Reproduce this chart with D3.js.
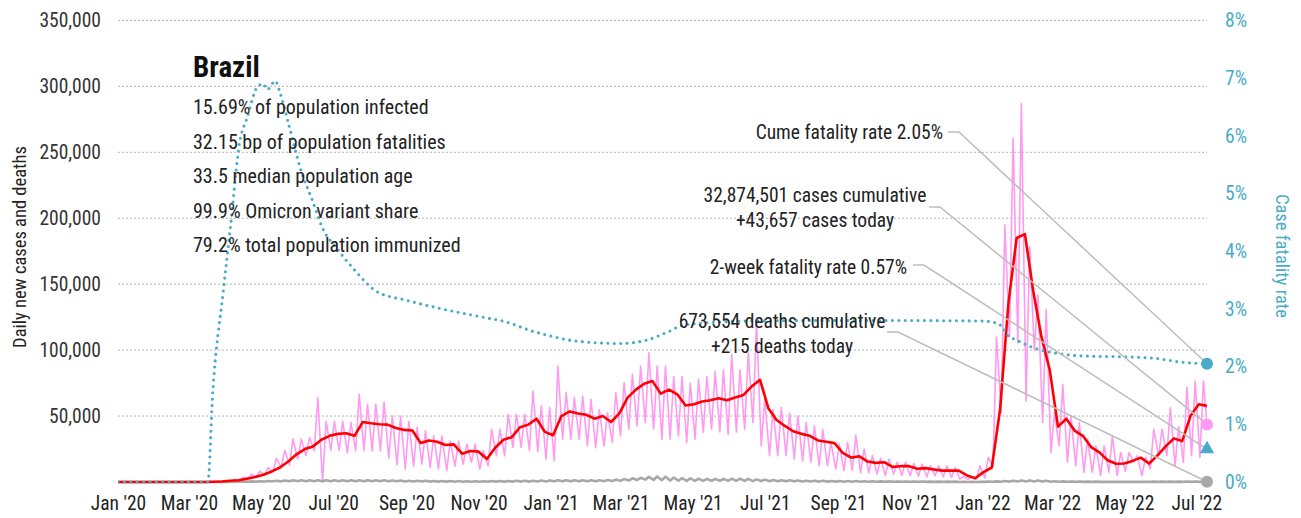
<!DOCTYPE html>
<html>
<head>
<meta charset="utf-8">
<script src="https://cdn.jsdelivr.net/npm/d3@7"></script>
<style>
  html, body { margin: 0; padding: 0; background: #fff; }
  svg { display: block; font-family: "Liberation Sans Narrow", "Roboto Condensed", Roboto, sans-serif; }
</style>
</head>
<body>
<svg id="chart" width="1301" height="518"></svg>
<script>
// ---- Data -----------------------------------------------------------------
const startDate = "2020-01-01";
const endDate = "2022-07-10";
// weekly series: week k ends on Sunday firstWeekEnd + 7k
const firstWeekEnd = "2019-12-29";

// 7-day average of new cases, value at each week end
const avgCases = [
  0, 0, 0, 0, 0, 0, 0, 0, 0, 0, 0, 0,
  200, 400, 900, 1300, 2500, 3800, 5500, 8000, 11000, 15500,
  21000, 25000, 27000, 32000, 35000, 36500, 37000, 35000, 45500, 44500,
  43800, 43500, 41000, 39500, 39000, 29500, 31500, 30500, 28000, 28500,
  21500, 23500, 23000, 17500, 26000, 32000, 34000, 41500, 43500, 48000,
  38000, 35500, 50000, 53500, 52000, 51000, 48000, 50000, 45500, 52000,
  64000, 70000, 74500, 76500, 67000, 70000, 66500, 58000, 59000, 61000,
  62000, 63500, 62000, 64000, 66000, 72500, 77500, 56000, 47000, 42500,
  38500, 36500, 35000, 31500, 30500, 29500, 22000, 18500, 19500, 15500,
  14500, 15000, 11500, 12000, 12000, 10000, 10500, 9500, 8600, 8600,
  8600, 5000, 2800, 7500, 11000, 55000, 135000, 185000, 188000, 145000,
  110000, 85000, 42000, 48000, 39000, 35000, 26500, 22500, 16500, 13800,
  14000, 16000, 18500, 14000, 20000, 27000, 33000, 31000, 50000, 59000,
  57700
];

// daily new cases: weekly trough (Monday) and weekly crest (Thursday)
const dailyLow = [
  0, 0, 0, 0, 0, 0, 0, 0, 0, 0, 0, 0,
  100, 200, 500, 800, 1500, 2500, 3500, 5500, 7500, 11000,
  13000, 17400, 20000, 23700, 0, 24000, 24000, 22000, 23700, 24000,
  23500, 23500, 18000, 13000, 9800, 12000, 13600, 11000, 10000, 8600,
  12000, 13600, 15000, 9800, 12300, 19900, 19900, 26200, 26200, 23700,
  23000, 17400, 16000, 32500, 32500, 32500, 27400, 26000, 27400, 30000,
  35000, 40000, 42500, 45000, 40000, 32500, 32500, 35000, 30000, 32500,
  37500, 40000, 38000, 36000, 38000, 40000, 45000, 27400, 20000, 20000,
  20000, 17400, 16000, 15000, 12300, 12300, 9800, 8600, 9000, 7000,
  7000, 6000, 4800, 6000, 5000, 4800, 4500, 3800, 4800, 3800,
  3500, 2300, 2000, 2300, 3000, 12000, 52600, 110000, 105600, 61500,
  100000, 45000, 22400, 27400, 15000, 12300, 7300, 7300, 4800, 7300,
  4800, 8000, 15000, 4800, 10000, 20000, 20000, 12300, 15000, 20000,
  18700
];
const dailyHigh = [
  0, 0, 0, 0, 0, 0, 0, 0, 0, 0, 0, 0,
  400, 700, 1300, 2000, 3500, 6000, 8000, 11000, 18000, 24000,
  32500, 32500, 33800, 64000, 46000, 46000, 46000, 45000, 66500, 59000,
  59000, 60700, 50000, 50000, 46000, 41400, 38800, 35000, 35000, 31000,
  31000, 28700, 28700, 23700, 40000, 40000, 51400, 51400, 51400, 69000,
  57700, 56500, 87900, 67800, 64000, 65200, 62700, 55000, 52600, 67800,
  75300, 81600, 87900, 98000, 87900, 87900, 80000, 80000, 75000, 77800,
  80000, 83800, 85000, 96800, 85000, 98000, 122000, 62700, 55000, 56500,
  52000, 50000, 45000, 42500, 40000, 30000, 28700, 30000, 35500, 25000,
  20000, 18000, 17400, 15000, 15000, 14000, 13600, 12300, 12300, 12300,
  11000, 4000, 4000, 12300, 18700, 110000, 195000, 260600, 287000, 178600,
  142000, 130800, 52600, 74000, 50000, 45000, 32500, 27400, 27400, 35000,
  22400, 22400, 20000, 18700, 40000, 40000, 56500, 42000, 71600, 76600,
  76600
];

// daily deaths: weekly trough and crest
const deathLow = [
  0, 0, 0, 0, 0, 0, 0, 0, 0, 0, 0, 0,
  5, 20, 40, 100, 150, 250, 300, 400, 500, 500,
  600, 600, 600, 600, 600, 600, 600, 600, 600, 600,
  600, 600, 600, 500, 400, 400, 400, 300, 300, 300,
  200, 200, 200, 200, 300, 300, 300, 300, 300, 300,
  400, 400, 500, 500, 500, 500, 500, 500, 600, 700,
  900, 1100, 1500, 1800, 1500, 1400, 1200, 1000, 900, 900,
  900, 900, 900, 900, 900, 800, 700, 700, 600, 600,
  500, 500, 400, 400, 300, 300, 300, 200, 200, 200,
  150, 150, 150, 150, 150, 100, 100, 100, 100, 100,
  100, 50, 50, 50, 100, 150, 200, 300, 400, 400,
  400, 300, 200, 200, 150, 100, 100, 80, 80, 80,
  80, 80, 80, 80, 80, 80, 80, 80, 80, 80,
  80
];
const deathHigh = [
  0, 0, 0, 0, 0, 0, 0, 0, 0, 0, 0, 0,
  20, 60, 120, 200, 400, 500, 600, 800, 1000, 1100,
  1300, 1300, 1300, 1300, 1300, 1300, 1300, 1300, 1300, 1300,
  1300, 1300, 1200, 1100, 1000, 1000, 900, 800, 800, 700,
  700, 600, 600, 600, 700, 800, 800, 900, 1000, 1000,
  1100, 1200, 1300, 1300, 1300, 1300, 1300, 1300, 1500, 1800,
  2200, 2800, 3200, 3900, 4200, 4000, 3400, 3000, 2700, 2500,
  2400, 2400, 2400, 2500, 2600, 2400, 2000, 1800, 1500, 1400,
  1300, 1200, 1000, 1000, 900, 800, 800, 700, 700, 600,
  600, 500, 500, 400, 400, 350, 350, 300, 300, 300,
  300, 150, 150, 200, 300, 500, 800, 1000, 1200, 1200,
  1100, 900, 600, 500, 400, 350, 300, 250, 200, 200,
  200, 200, 200, 200, 250, 300, 300, 300, 350, 350,
  350
];

// cumulative case fatality rate (percent)
const cfrDates = [
  "2020-01-01", "2020-03-17", "2020-03-21", "2020-03-30", "2020-04-05", "2020-04-13",
  "2020-04-19", "2020-04-28", "2020-05-03", "2020-05-06", "2020-05-13", "2020-05-17",
  "2020-05-25", "2020-06-03", "2020-06-14", "2020-06-22", "2020-07-04", "2020-07-18",
  "2020-08-07", "2020-09-01", "2020-10-01", "2020-11-01", "2020-11-25", "2020-12-14",
  "2021-01-01", "2021-01-20", "2021-03-01", "2021-03-23", "2021-04-12", "2021-04-23",
  "2021-06-19", "2021-10-01", "2022-01-01", "2022-01-10", "2022-01-18", "2022-01-22",
  "2022-01-30", "2022-02-08", "2022-02-19", "2022-03-05", "2022-04-02", "2022-04-30",
  "2022-05-29", "2022-06-17", "2022-07-10"
];
const cfrValues = [
  0, 0, 1.5, 3.3, 4.4, 5.9,
  6.3, 6.85, 6.9, 6.8, 6.95, 6.75,
  6.15, 5.45, 4.85, 4.4, 4.05, 3.7,
  3.3, 3.15, 3.0, 2.87, 2.77, 2.63,
  2.53, 2.45, 2.40, 2.46, 2.62, 2.72,
  2.79, 2.80, 2.79, 2.77, 2.69, 2.55,
  2.46, 2.37, 2.29, 2.23, 2.18, 2.17,
  2.14, 2.08, 2.05
];

// latest figures
const casesToday = 43657;
const deathsToday = 215;
const casesCumulative = 32874501;
const deathsCumulative = 673554;
const cumeFatalityRate = 2.05;
const twoWeekFatalityRate = 0.57;

const countryName = "Brazil";
const countryStats = [
  "15.69% of population infected",
  "32.15 bp of population fatalities",
  "33.5 median population age",
  "99.9% Omicron variant share",
  "79.2% total population immunized"
];

const caseTicks = [0, 50000, 100000, 150000, 200000, 250000, 300000, 350000];
const rateTicks = [0, 1, 2, 3, 4, 5, 6, 7, 8];
const monthTicks = [
  "2020-01-01", "2020-03-01", "2020-05-01", "2020-07-01", "2020-09-01", "2020-11-01",
  "2021-01-01", "2021-03-01", "2021-05-01", "2021-07-01", "2021-09-01", "2021-11-01",
  "2022-01-01", "2022-03-01", "2022-05-01", "2022-07-01"
];

// ---- Layout ---------------------------------------------------------------
const C = {
  teal: "#4aabc8", pink: "#ff9af0", red: "#ff0000", gray: "#a8a8a8",
  grid: "#b4b4b4", leader: "#bdbdbd", text: "#222"
};
const plot = { left: 118, right: 1207, top: 20.4, bottom: 482 };
const FS = 19.5;

const parse = d3.utcParse("%Y-%m-%d");
const svg = d3.select("#chart");

const x = d3.scaleUtc().domain([parse(startDate), parse(endDate)]).range([plot.left, plot.right]);
const yL = d3.scaleLinear().domain([0, 350000]).range([plot.bottom, plot.top]);
const yR = d3.scaleLinear().domain([0, 8]).range([plot.bottom, plot.top]);

const weekEnd = k => d3.utcDay.offset(parse(firstWeekEnd), 7 * k);

// Gridlines (left axis)
svg.append("g")
  .selectAll("line").data(caseTicks.filter(d => d > 0)).join("line")
  .attr("x1", plot.left).attr("x2", plot.right)
  .attr("y1", d => yL(d)).attr("y2", d => yL(d))
  .attr("stroke", C.grid).attr("stroke-width", 1)
  .attr("stroke-dasharray", "2,2");

// Axes
function styleAxis(g, color) {
  g.select(".domain").remove();
  g.selectAll(".tick line").remove();
  g.attr("font-family", null).attr("font-size", null);
  g.selectAll("text").attr("font-size", FS).attr("fill", color);
}

svg.append("g")
  .attr("transform", `translate(${plot.left},0)`)
  .call(d3.axisLeft(yL).tickValues(caseTicks).tickFormat(d3.format(",")).tickSize(0).tickPadding(17))
  .call(g => styleAxis(g, "#333"))
  .call(g => g.selectAll(".tick").filter(d => d === 0).remove());

svg.append("g")
  .attr("transform", `translate(${plot.right},0)`)
  .call(d3.axisRight(yR).tickValues(rateTicks).tickFormat(d => d + "%").tickSize(0).tickPadding(18))
  .call(g => styleAxis(g, C.teal));

svg.append("g")
  .attr("transform", `translate(0,${plot.bottom})`)
  .call(d3.axisBottom(x).tickValues(monthTicks.map(parse)).tickFormat(d3.utcFormat("%b '%y")).tickSize(0).tickPadding(14))
  .call(g => styleAxis(g, C.text));

// Axis titles
svg.append("text")
  .attr("transform", `translate(26,247) rotate(-90)`)
  .attr("text-anchor", "middle")
  .attr("font-size", 18.5).attr("fill", C.text)
  .text("Daily new cases and deaths");

svg.append("text")
  .attr("transform", `translate(1276,256) rotate(90)`)
  .attr("text-anchor", "middle")
  .attr("font-size", 18.5).attr("fill", C.teal)
  .text("Case fatality rate");

// ---- Series ---------------------------------------------------------------
svg.append("defs").append("clipPath").attr("id", "plotClip")
  .append("rect").attr("x", plot.left).attr("y", 0)
  .attr("width", plot.right - plot.left).attr("height", plot.bottom + 4);

const layer = svg.append("g").attr("clip-path", "url(#plotClip)");

function zigzag(lows, highs, today) {
  const pts = [];
  lows.forEach((lo, k) => {
    pts.push([d3.utcDay.offset(weekEnd(k), -6), lo]);
    pts.push([d3.utcDay.offset(weekEnd(k), -3), highs[k]]);
  });
  pts.push([parse(endDate), today]);
  return pts;
}

const lineL = d3.line().x(d => x(d[0])).y(d => yL(d[1]));

// daily cases
layer.append("path")
  .datum(zigzag(dailyLow, dailyHigh, casesToday))
  .attr("d", lineL)
  .attr("fill", "none").attr("stroke", C.pink).attr("stroke-width", 1.6)
  .attr("stroke-linejoin", "round");

// daily deaths
layer.append("path")
  .datum(zigzag(deathLow, deathHigh, deathsToday))
  .attr("d", lineL)
  .attr("fill", "none").attr("stroke", C.gray).attr("stroke-width", 2.6)
  .attr("stroke-linejoin", "round");

// 7-day average cases
layer.append("path")
  .datum(avgCases.map((v, k) => [weekEnd(k), v]))
  .attr("d", lineL)
  .attr("fill", "none").attr("stroke", C.red).attr("stroke-width", 2.6)
  .attr("stroke-linejoin", "round");

// case fatality rate
layer.append("path")
  .datum(cfrDates.map((d, i) => [parse(d), cfrValues[i]]))
  .attr("d", d3.line().x(d => x(d[0])).y(d => yR(d[1])).curve(d3.curveMonotoneX))
  .attr("fill", "none").attr("stroke", C.teal).attr("stroke-width", 3.1)
  .attr("stroke-linecap", "round").attr("stroke-dasharray", "0,6.4");

// ---- Country stats ----------------------------------------------------------
svg.append("text")
  .attr("x", 193).attr("y", 77)
  .attr("font-size", 29).attr("font-weight", "bold").attr("fill", "#111")
  .text(countryName);

svg.append("g").selectAll("text").data(countryStats).join("text")
  .attr("x", 193).attr("y", (d, i) => 114 + i * 34.6)
  .attr("font-size", FS + 0.5).attr("fill", C.text)
  .text(d => d);

// ---- Annotations ------------------------------------------------------------
const endX = x(parse(endDate));
const fmt = d3.format(",");
const notes = [
  { lines: [`Cume fatality rate ${cumeFatalityRate.toFixed(2)}%`], anchor: "end", tx: 943, ty: 139,
    lx: 948, ly: 132, target: yR(cumeFatalityRate) },
  { lines: [`${fmt(casesCumulative)} cases cumulative`, `+${fmt(casesToday)} cases today`], anchor: "middle", tx: 815, ty: 202,
    lx: 929, ly: 207, target: yL(casesToday) },
  { lines: [`2-week fatality rate ${twoWeekFatalityRate.toFixed(2)}%`], anchor: "end", tx: 907, ty: 274,
    lx: 913, ly: 265, target: yR(twoWeekFatalityRate) },
  { lines: [`${fmt(deathsCumulative)} deaths cumulative`, `+${fmt(deathsToday)} deaths today`], anchor: "middle", tx: 782, ty: 328,
    lx: 887, ly: 332, target: yL(deathsToday) }
];

const noteG = svg.append("g");
notes.forEach(n => {
  noteG.append("path")
    .attr("d", `M${n.lx},${n.ly}H${n.lx + 11}L${endX},${n.target}`)
    .attr("fill", "none").attr("stroke", C.leader).attr("stroke-width", 1.5);
  n.lines.forEach((t, i) => {
    noteG.append("text")
      .attr("x", n.tx).attr("y", n.ty + i * 25)
      .attr("text-anchor", n.anchor)
      .attr("font-size", FS).attr("fill", C.text)
      .text(t);
  });
});

// ---- End markers ------------------------------------------------------------
svg.append("circle").attr("cx", endX).attr("cy", yR(cumeFatalityRate)).attr("r", 6).attr("fill", C.teal);
svg.append("circle").attr("cx", endX).attr("cy", yL(casesToday)).attr("r", 6).attr("fill", C.pink);
svg.append("path")
  .attr("transform", `translate(${endX},${yR(twoWeekFatalityRate)})`)
  .attr("d", d3.symbol().type(d3.symbolTriangle).size(90))
  .attr("fill", C.teal);
svg.append("circle").attr("cx", endX).attr("cy", yL(deathsToday)).attr("r", 6).attr("fill", C.gray);
</script>
</body>
</html>
